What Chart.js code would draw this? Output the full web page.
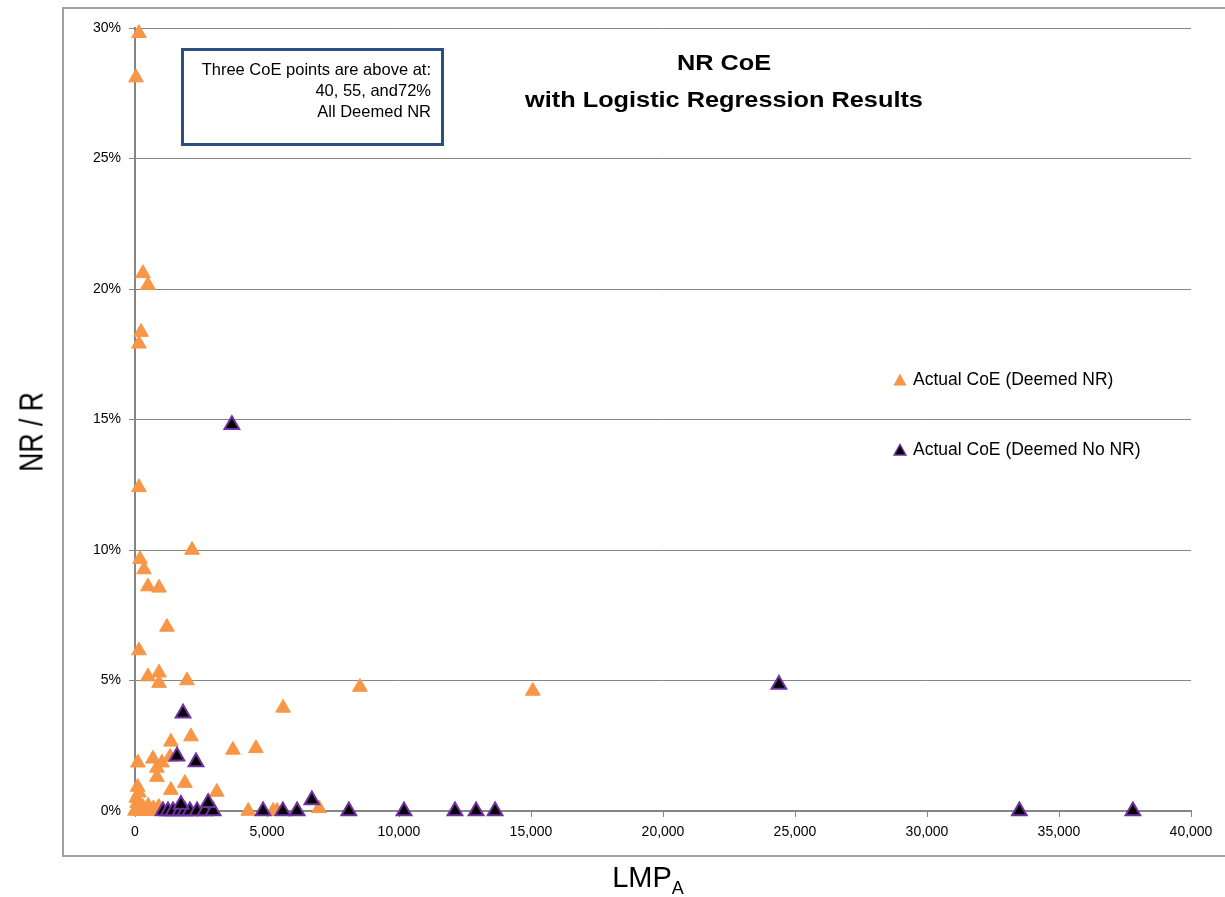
<!DOCTYPE html>
<html>
<head>
<meta charset="utf-8">
<script src="https://cdn.jsdelivr.net/npm/chart.js@4"></script>
<style>
  html, body { margin: 0; padding: 0; background: #fff; }
  #wrap { position: relative; width: 1225px; height: 897px; overflow: hidden; font-family: 'Liberation Sans', Arial, sans-serif; }
  #c { position: absolute; left: 0; top: 0; }
  .frame { position: absolute; left: 62px; top: 7px; width: 1200px; height: 846px; border: 2px solid #a0a0a0; }
  .ytitle { position: absolute; left: 31px; top: 432px; font-size: 34px; white-space: nowrap;
            transform: translate(-50%, -50%) rotate(-90deg) scale(0.78, 1); }
  .xtitle { position: absolute; left: 648px; top: 880px; font-size: 29px; white-space: nowrap;
            transform: translate(-50%, -50%); }
  .xtitle sub { font-size: 18px; vertical-align: -7px; }
  .title { position: absolute; left: 724px; top: 44px; font-weight: bold; font-size: 22px; line-height: 37px;
           text-align: center; white-space: nowrap; transform: translateX(-50%) scaleX(1.15); }
  .note { position: absolute; left: 181px; top: 48px; width: 257px; height: 84px; border: 3px solid #2b4f80;
          font-size: 16.5px; line-height: 21px; text-align: right; box-sizing: content-box; }
  .note div { padding-right: 10px; }
  .legend { position: absolute; left: 893px; font-size: 17.5px; white-space: nowrap; }
  .legend svg { margin-right: 6px; vertical-align: -1px; }
</style>
</head>
<body>
<div id="wrap">
  <div class="frame"></div>
  <canvas id="c" width="1225" height="897"></canvas>
  <div class="ytitle">NR / R</div>
  <div class="xtitle">LMP<sub>A</sub></div>
  <div class="title">NR CoE<br>with Logistic Regression Results</div>
  <div class="note" style="padding-top:8px">
    <div>Three CoE points are above at:</div>
    <div>40, 55, and72%</div>
    <div>All Deemed NR</div>
  </div>
  <div class="legend" style="top:369px"><svg width="14" height="13"><polygon points="7,0.5 13.5,12.5 0.5,12.5" fill="#f79646"/></svg>Actual CoE (Deemed NR)</div>
  <div class="legend" style="top:439px"><svg width="14" height="13"><polygon points="7,1.5 12.8,12 1.2,12" fill="#000" stroke="#7030a0" stroke-width="1.5"/></svg>Actual CoE (Deemed No NR)</div>
</div>
<script>
// Actual CoE (Deemed NR) - LMP_A and NR/R in %
const nrLmp = [40, 150, 300, 490, 230, 150, 150, 190, 340, 490, 910, 2160, 1210, 150, 490, 910, 910, 1970,
  8520, 15070, 5610, 3710, 4580, 2120, 1360, 110, 680, 1020, 830, 1330, 830, 1890, 1360, 3100, 100, 150, 50, 80,
  0, 100, 200, 300, 400, 500, 600, 700, 800, 900, 4290, 5230, 5380, 6970, 2650];
const nrRatio = [28.1, 29.8, 20.6, 20.15, 18.35, 17.9, 12.4, 9.65, 9.25, 8.6, 8.55, 10.0, 7.05, 6.15, 5.15, 5.3, 4.9, 5.0,
  4.75, 4.6, 3.95, 2.34, 2.4, 2.85, 2.65, 1.85, 2.0, 1.85, 1.65, 2.07, 1.3, 1.07, 0.8, 0.73, 0.92, 0.7, 0.5, 0.3,
  0, 0.1, 0, 0.15, 0, 0.2, 0, 0.1, 0, 0.15, 0, 0, 0, 0.1, 0];

// Actual CoE (Deemed No NR)
const noNrLmp = [3670, 24390, 1820, 1590, 2310, 1060, 1250, 1440, 1700, 1890, 2080, 2350, 2650, 2960, 1740, 2770,
  4850, 5600, 6140, 6700, 8100, 10190, 12120, 12920, 13640, 33500, 37800];
const noNrRatio = [14.8, 4.85, 3.75, 2.1, 1.88, 0, 0, 0, 0, 0, 0, 0, 0, 0, 0.25, 0.32,
  0, 0, 0, 0.42, 0, 0, 0, 0, 0, 0, 0];

// axis ticks
const xTicks = [0, 5000, 10000, 15000, 20000, 25000, 30000, 35000, 40000];
const yTicks = [0, 5, 10, 15, 20, 25, 30];

const toPts = (xs, ys) => xs.map((x, i) => ({ x: x, y: ys[i] }));
const tickFont = { family: "'Liberation Sans', Arial, sans-serif", size: 14 };

new Chart(document.getElementById('c').getContext('2d'), {
  type: 'scatter',
  data: {
    datasets: [
      {
        label: 'Actual CoE (Deemed No NR)',
        data: toPts(noNrLmp, noNrRatio),
        pointStyle: 'triangle',
        pointRadius: 8.5,
        backgroundColor: '#000000',
        borderColor: '#7030a0',
        borderWidth: 2,
        order: 0,
        clip: false
      },
      {
        label: 'Actual CoE (Deemed NR)',
        data: toPts(nrLmp, nrRatio),
        pointStyle: 'triangle',
        pointRadius: 8.5,
        backgroundColor: '#f79646',
        borderColor: '#f79646',
        borderWidth: 1,
        order: 1,
        clip: false
      }
    ]
  },
  options: {
    responsive: false,
    animation: false,
    devicePixelRatio: 1,
    layout: { padding: { top: 28, right: 34, left: 0, bottom: 0 } },
    plugins: { legend: { display: false }, tooltip: { enabled: false } },
    scales: {
      x: {
        type: 'linear',
        min: 0, max: 40000,
        afterBuildTicks: s => { s.ticks = xTicks.map(v => ({ value: v })); },
        afterFit: s => { s.height = 86; },
        ticks: { font: tickFont, color: '#000', padding: 7, maxRotation: 0,
                 callback: v => v.toLocaleString('en-US') },
        grid: { drawOnChartArea: false, drawTicks: true, tickLength: 6, color: '#868686' },
        border: { color: '#868686', width: 2 }
      },
      y: {
        min: 0, max: 30,
        afterBuildTicks: s => { s.ticks = yTicks.map(v => ({ value: v })); },
        afterFit: s => { s.width = 135; },
        ticks: { font: tickFont, color: '#000', padding: 8, callback: v => v + '%' },
        grid: { color: '#868686', lineWidth: 1, tickLength: 6 },
        border: { color: '#868686', width: 2 }
      }
    }
  }
});
</script>
</body>
</html>
